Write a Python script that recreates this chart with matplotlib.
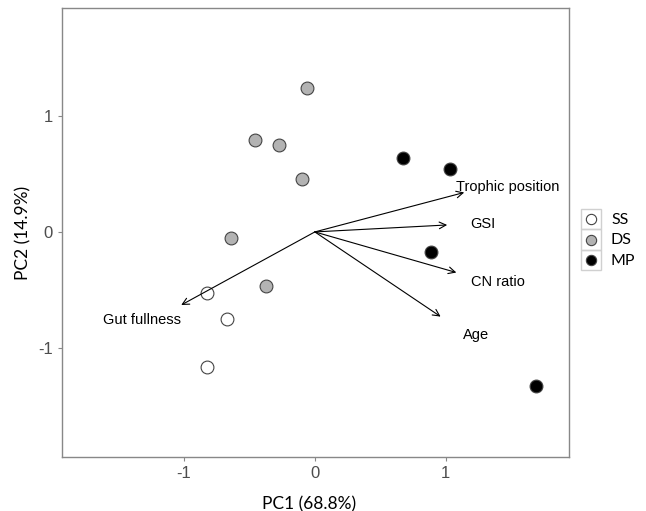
import matplotlib.pyplot as plt
from matplotlib.patches import Rectangle

# site scores
ss_x = [-0.82, -0.67, -0.82]
ss_y = [-0.53, -0.75, -1.16]
ds_x = [-0.06, -0.46, -0.27, -0.10, -0.64, -0.37]
ds_y = [1.24, 0.79, 0.75, 0.46, -0.05, -0.47]
mp_x = [0.67, 1.03, 0.89, 1.69]
mp_y = [0.64, 0.54, -0.17, -1.33]

# loadings
var_names = ["Trophic position", "GSI", "CN ratio", "Age", "Gut fullness"]
load_x = [1.14, 1.01, 1.08, 0.96, -1.02]
load_y = [0.34, 0.06, -0.35, -0.73, -0.63]
label_x = [1.08, 1.19, 1.19, 1.13, -1.62]
label_y = [0.39, 0.07, -0.43, -0.89, -0.76]

groups = ["SS", "DS", "MP"]
fills = ["white", "#b3b3b3", "black"]

W, H = 646, 511
fig = plt.figure(figsize=(W / 100, H / 100), dpi=100)
ax = fig.add_axes([62 / W, (H - 457) / H, (569 - 62) / W, (457 - 8) / H])

for gx, gy, fc in zip([ss_x, ds_x, mp_x], [ss_y, ds_y, mp_y], fills):
    ax.scatter(gx, gy, s=85, facecolor=fc, edgecolor="#444444", linewidth=0.8, zorder=3)

for nm, lx, ly, tx, ty in zip(var_names, load_x, load_y, label_x, label_y):
    ax.annotate("", xy=(lx, ly), xytext=(0, 0),
                arrowprops=dict(arrowstyle="->", lw=0.8, color="black",
                                shrinkA=0, shrinkB=0, mutation_scale=12))
    ax.text(tx, ty, nm, ha="left", va="center", fontsize=10.5,
            family="Liberation Sans", color="black")

ax.set_xlim(-1.93, 1.94)
ax.set_ylim(-1.94, 1.93)
ax.set_xticks([-1, 0, 1])
ax.set_yticks([-1, 0, 1])
ax.set_xticklabels(["-1", "0", "1"], family="Liberation Sans", fontsize=12, color="#4d4d4d")
ax.set_yticklabels(["-1", "0", "1"], family="Liberation Sans", fontsize=12, color="#4d4d4d")
ax.tick_params(length=3, color="#888888", width=0.8)
for sp in ax.spines.values():
    sp.set_color("#888888")
    sp.set_linewidth(1)

ax.set_xlabel("PC1 (68.8%)", family="Lato", fontsize=12.5)
ax.set_ylabel("PC2 (14.9%)", family="Lato", fontsize=12.5)
ax.xaxis.set_label_coords(0.488, -0.087)
ax.yaxis.set_label_coords(-0.06, 0.5)

# legend drawn by hand in pixel space (y down)
lax = fig.add_axes([575 / W, (H - 280) / H, 71 / W, 80 / H])
lax.set_xlim(575, 646)
lax.set_ylim(280, 200)
lax.axis("off")
for i, (g, fc) in enumerate(zip(groups, fills)):
    yc = 219.5 + 20.5 * i
    lax.add_patch(Rectangle((581, yc - 10.5), 20, 20.5, fill=False,
                            edgecolor="#d0d0d0", linewidth=1))
    lax.scatter([591], [yc], s=55, facecolor=fc, edgecolor="#444444", linewidth=0.8,
                clip_on=False)
    lax.text(611, yc + 0.5, g, ha="left", va="center", family="Lato", fontsize=11.5)

fig.savefig("out.png", dpi=100)
